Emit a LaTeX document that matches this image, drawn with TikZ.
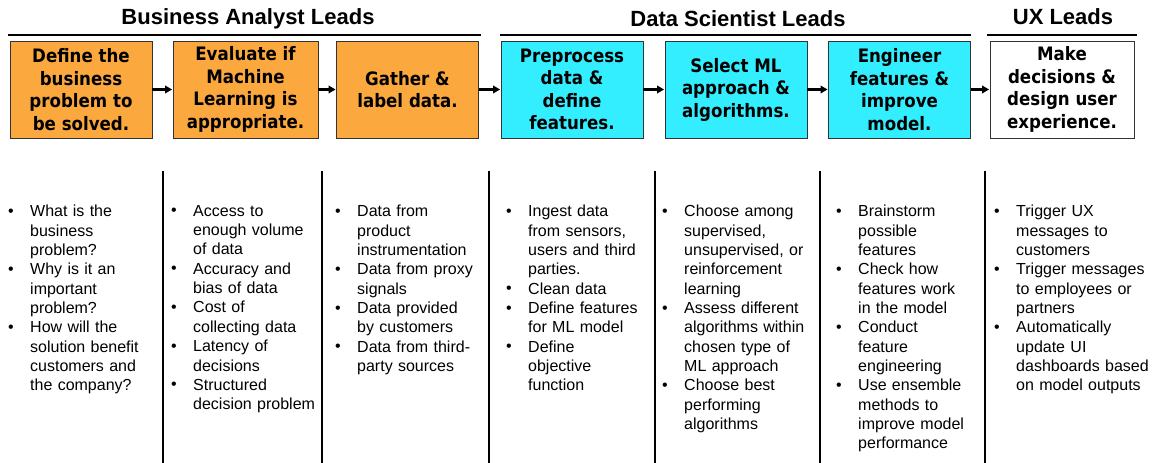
\documentclass[tikz,border=0pt]{standalone}
\usepackage{fontspec}
\setmainfont{Liberation Sans}
\newfontfamily\boxfont[FakeStretch=0.9]{DejaVu Sans}
\usetikzlibrary{arrows.meta}
\definecolor{baorange}{HTML}{FBA83E}
\definecolor{dscyan}{HTML}{33EEFF}
\newcommand\itm[1]{\noindent\hangindent=22pt\hangafter=1\makebox[22pt][l]{\raisebox{0.5pt}{•}}#1\par}
\tikzset{
  stepbox/.style={draw=black!80, line width=0.8pt, minimum width=142pt, minimum height=97pt,
    inner sep=0pt, align=center, font=\boxfont\bfseries\fontsize{18.5}{22.5}\selectfont},
  ba/.style={stepbox, fill=baorange},
  ds/.style={stepbox, fill=dscyan},
  ux/.style={stepbox, fill=white},
  flow/.style={line width=2.2pt, -{Triangle[length=7pt,width=7.5pt]}, shorten >=0.5pt},
  lead/.style={font=\bfseries\fontsize{22}{26}\selectfont, inner sep=0pt},
  leadline/.style={line width=2.5pt},
  col/.style={anchor=north west, inner sep=0pt, text width=160pt, align=left,
    font=\fontsize{16}{19.35}\selectfont},
  sep/.style={line width=1.6pt}
}
\begin{document}
\begin{tikzpicture}[x=1pt,y=-1pt]
\useasboundingbox (0,0) rectangle (1154,463);
% leads
\node[lead] (tba) at (248,18.5) {Business Analyst Leads};
\node[lead] (tds) at (738,18.5) {Data Scientist Leads};
\node[lead] (tux) at (1063,16.5) {UX Leads};
\coordinate (l1a) at (8,35); \coordinate (l1b) at (481,35);
\coordinate (l2a) at (500,35); \coordinate (l2b) at (971,35);
\coordinate (l3a) at (987,35); \coordinate (l3b) at (1137,35);
\draw[leadline] (l1a) -- (l1b);
\draw[leadline] (l2a) -- (l2b);
\draw[leadline] (l3a) -- (l3b);
% boxes
\node[ba] (b1) at (81,89.5) {Define the\\business\\problem to\\be solved.};
\node[ba, minimum width=145pt] (b2) at (245.5,89.5) {Evaluate if\\Machine\\Learning is\\appropriate.};
\node[ba] (b3) at (407.5,89.5) {Gather \&\\label data.};
\node[ds] (b4) at (572,89.5) {Preprocess\\data \&\\define\\features.};
\node[ds] (b5) at (736,89.5) {Select ML\\approach \&\\algorithms.};
\node[ds] (b6) at (899.5,89.5) {Engineer\\features \&\\improve\\model.};
\node[ux, minimum width=144pt] (b7) at (1062,89.5) {Make\\decisions \&\\design user\\experience.};
\draw[flow] (b1) -- (b2);
\draw[flow] (b2) -- (b3);
\draw[flow] (b3) -- (b4);
\draw[flow] (b4) -- (b5);
\draw[flow] (b5) -- (b6);
\draw[flow] (b6) -- (b7);
% separators
\foreach \x/\n in {163/1,322/2,489/3,655/4,820/5,985/6}{
  \coordinate (s\n a) at (\x,171); \coordinate (s\n b) at (\x,463);
  \draw[sep] (s\n a) -- (s\n b);
}
% columns
\node[col] (c1) at (8,205) {\itm{What is the\newline business\newline problem?}\itm{Why is it an\newline important\newline problem?}\itm{How will the\newline solution benefit\newline customers and\newline the company?}};
\node[col] (c2) at (171,205) {\itm{Access to\newline enough volume\newline of data}\itm{Accuracy and\newline bias of data}\itm{Cost of\newline collecting data}\itm{Latency of\newline decisions}\itm{Structured\newline decision problem}};
\node[col] (c3) at (335,205) {\itm{Data from\newline product\newline instrumentation}\itm{Data from proxy\newline signals}\itm{Data provided\newline by customers}\itm{Data from third-\newline party sources}};
\node[col] (c4) at (506,205) {\itm{Ingest data\newline from sensors,\newline users and third\newline parties.}\itm{Clean data}\itm{Define features\newline for ML model}\itm{Define\newline objective\newline function}};
\node[col] (c5) at (662,205) {\itm{Choose among\newline supervised,\newline unsupervised, or\newline reinforcement\newline learning}\itm{Assess different\newline algorithms within\newline chosen type of\newline ML approach}\itm{Choose best\newline performing\newline algorithms}};
\node[col] (c6) at (836,205) {\itm{Brainstorm\newline possible\newline features}\itm{Check how\newline features work\newline in the model}\itm{Conduct\newline feature\newline engineering}\itm{Use ensemble\newline methods to\newline improve model\newline performance}};
\node[col] (c7) at (994,205) {\itm{Trigger UX\newline messages to\newline customers}\itm{Trigger messages\newline to employees or\newline partners}\itm{Automatically\newline update UI\newline dashboards based\newline on model outputs}};
\end{tikzpicture}
\end{document}
